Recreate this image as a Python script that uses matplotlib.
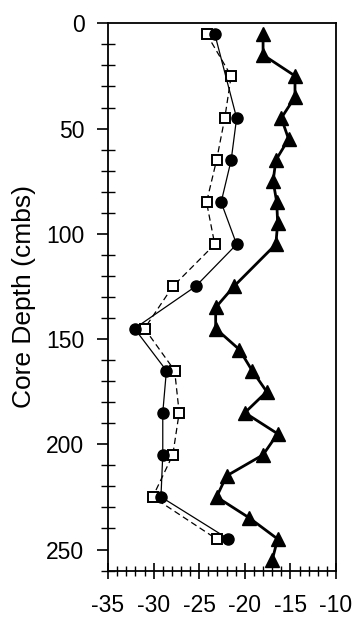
import matplotlib.pyplot as plt
from matplotlib.ticker import MultipleLocator

plt.rcParams['font.family'] = ['Liberation Sans', 'DejaVu Sans']
plt.rcParams['axes.unicode_minus'] = False

# Kreise (gefuellt, duenne Linie)
depth_circ = [5, 45, 65, 85, 105, 125, 145, 165, 185, 205, 225, 245]
val_circ = [-23.3, -20.9, -21.5, -22.6, -20.9, -25.4, -32.1, -28.6, -29.0, -29.0, -29.2, -21.8]

# Quadrate (offen, gestrichelt)
depth_sq = [5, 25, 45, 65, 85, 105, 125, 145, 165, 185, 205, 225, 245]
val_sq = [-24.2, -21.5, -22.2, -23.1, -24.2, -23.3, -27.9, -31.0, -27.7, -27.2, -27.9, -30.1, -23.1]

# Dreiecke (gefuellt, dicke Linie)
depth_tri = [5, 15, 25, 35, 45, 55, 65, 75, 85, 95, 105, 125, 135, 145, 155,
             165, 175, 185, 195, 205, 215, 225, 235, 245, 255]
val_tri = [-18.0, -18.0, -14.5, -14.5, -16.0, -15.2, -16.6, -16.9, -16.5, -16.4, -16.6,
           -21.2, -23.2, -23.2, -20.6, -19.2, -17.6, -20.0, -16.4, -18.0, -22.0, -23.1,
           -19.5, -16.4, -17.0]

fig = plt.figure(figsize=(3.59, 6.2), dpi=100)
ax = fig.add_axes([0.301, 0.0797, 0.635, 0.8827])

ax.plot(val_tri, depth_tri, color='black', lw=2.0, marker='^', ms=10, mfc='black', zorder=3)
ax.plot(val_sq, depth_sq, color='black', lw=0.9, ls=(0, (5, 3)), marker='s', ms=6.5,
        mfc='white', mec='black', mew=1.4, zorder=4)
ax.plot(val_circ, depth_circ, color='black', lw=0.9, marker='o', ms=8, mfc='black', zorder=5)

ax.set_xlim(-35, -10)
ax.set_ylim(260, 0)
ax.set_xticks([-35, -30, -25, -20, -15, -10])
ax.xaxis.set_minor_locator(MultipleLocator(1))
ax.set_yticks([0, 50, 100, 150, 200, 250])
ax.yaxis.set_minor_locator(MultipleLocator(10))

ax.tick_params(axis='x', which='major', direction='inout', length=12, width=1.2, labelsize=16.5, pad=11)
ax.tick_params(axis='x', which='minor', direction='inout', length=7, width=1.0)
ax.tick_params(axis='y', which='major', direction='out', length=8, width=1.2, labelsize=16.5, pad=9)
ax.tick_params(axis='y', which='minor', direction='inout', length=10, width=1.0)

for s in ax.spines.values():
    s.set_linewidth(1.3)

ax.set_ylabel('Core Depth (cmbs)', fontsize=19, labelpad=7)

fig.savefig('out.png', dpi=100)
